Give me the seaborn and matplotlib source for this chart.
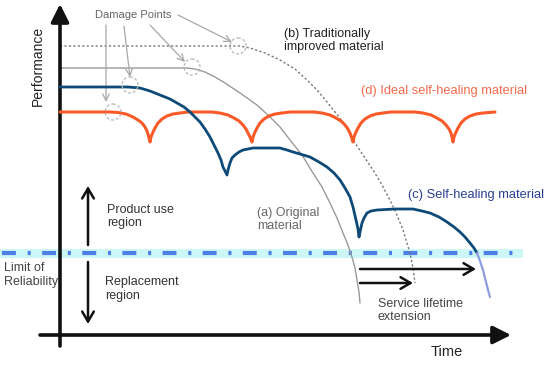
import matplotlib
matplotlib.use("Agg")
import matplotlib.pyplot as plt
import seaborn as sns
from matplotlib.patches import Circle, Rectangle

sns.set_theme(style="white")
plt.rcParams['font.family'] = ['Liberation Sans', 'DejaVu Sans']
plt.rcParams['lines.scale_dashes'] = False

# ---- curve data (diagram units: x = time, y = performance) ----
orig_x = [60, 187, 195, 205, 215, 225, 240, 257, 270, 280, 290, 302, 313, 322, 330, 337,
          343, 348, 352, 355, 357, 359, 360]
orig_y = [68, 68, 69, 72, 77, 83, 93, 105, 117, 127, 140, 155, 173, 187, 203, 218,
          233, 245, 257, 268, 280, 292, 303]

trad_x = [60, 240, 250, 265, 280, 295, 307, 317, 327, 343, 353, 363, 373, 382, 390, 397,
          403, 410, 413, 415]
trad_y = [46, 46, 48, 53, 60, 69, 80, 90, 102, 122, 140, 155, 170, 185, 200, 215,
          230, 253, 268, 283]

heal_x = [60, 128, 140, 150, 160, 170, 177, 184, 190, 195, 200, 205, 210, 214, 218, 221,
          223, 225, 227, 228, 230, 232, 235, 239, 243, 248, 253, 280, 287, 293, 300, 310,
          319, 327, 334, 340, 345, 350, 353, 356, 358, 359, 360, 362, 364, 367, 371, 377,
          395, 413, 422, 430, 439, 447, 454, 460, 465, 470, 474, 477]
heal_y = [87, 87, 88, 91, 95, 99, 103, 107, 112, 117, 122, 129, 137, 145, 153, 160,
          167, 171, 175, 170, 163, 158, 155, 152, 150, 149, 148, 148, 150, 152, 154, 157,
          162, 167, 173, 180, 188, 197, 207, 220, 229, 237, 232, 223, 218, 213, 211, 210,
          209, 209, 211, 213, 217, 222, 227, 232, 237, 243, 248, 253]
heal_tail_x = [477, 480, 483, 486, 488, 490]
heal_tail_y = [253, 261, 270, 282, 290, 297]

ideal_x = [60, 110, 118, 126, 133, 138, 142, 145, 147, 148.5, 150,
           151, 153, 155, 158, 162, 167, 173, 180, 188, 200, 212, 220, 228, 234, 239, 243, 246, 248, 250, 252,
           253, 255, 257, 260, 264, 269, 275, 282, 290, 302, 314, 322, 330, 336, 341, 345, 348, 350, 351.5, 353,
           354, 356, 358, 361, 365, 370, 376, 383, 391, 403, 415, 423, 431, 437, 442, 446, 449, 451, 452, 453,
           454, 456, 458, 461, 465, 470, 476, 483, 495]
ideal_y = [112, 112, 112.5, 114, 117, 120, 123, 127, 131, 136, 142,
           137, 132, 128, 123, 119, 116, 114, 113, 112, 112, 112, 113, 115, 118, 121, 125, 129, 133, 137, 142,
           137, 132, 128, 123, 119, 116, 114, 113, 112, 112, 112, 113, 115, 118, 121, 125, 129, 133, 137, 142,
           137, 132, 128, 123, 119, 116, 114, 113, 112, 112, 112, 113, 115, 118, 121, 125, 129, 133, 137, 142,
           137, 132, 128, 123, 119, 116, 114, 113, 112]

damage_x = [113, 130, 192, 238]
damage_y = [112, 85, 67, 46]

limit_y = 253

fig = plt.figure(figsize=(5.5, 3.65), dpi=100)
ax = fig.add_axes([0, 0, 1, 1])
ax.set_xlim(0, 550)
ax.set_ylim(365, 0)
ax.axis('off')

# limit of reliability band and dash-dot line
ax.add_patch(Rectangle((0, limit_y - 4.5), 523, 9, color='#cdf6f6', lw=0, zorder=1))
ax.plot([2, 520], [limit_y, limit_y], color='#4d7fe6', lw=3.0,
        dashes=(10, 8.5, 2.2, 8.2), solid_capstyle='butt', dash_capstyle='butt', zorder=2)

# curves
sns.lineplot(x=orig_x, y=orig_y, sort=False, estimator=None, ax=ax, color='#9a9a9a', lw=1.0, zorder=3)
sns.lineplot(x=trad_x, y=trad_y, sort=False, estimator=None, ax=ax, color='#777777', lw=1.0,
             zorder=3).lines[-1].set_dashes((1.6, 1.6))
sns.lineplot(x=ideal_x, y=ideal_y, sort=False, estimator=None, ax=ax, color='#fa5a28', lw=2.2, zorder=4)
sns.lineplot(x=heal_x, y=heal_y, sort=False, estimator=None, ax=ax, color='#0d4a78', lw=2.0, zorder=5)
sns.lineplot(x=heal_tail_x, y=heal_tail_y, sort=False, estimator=None, ax=ax, color='#8d9ce0', lw=1.6, zorder=5)
for ln in ax.lines[1:]:
    ln.set_solid_joinstyle('round')

# damage point circles
for cx, cy in zip(damage_x, damage_y):
    ax.add_patch(Circle((cx, cy), 8, fill=False, ec='#b5b5b5', lw=0.9, ls=(0, (2, 1.5)), zorder=6))

# damage point arrows
arr_gray = dict(arrowstyle='->', color='#a8a8a8', lw=0.9, shrinkA=0, shrinkB=0)
ax.annotate('', xy=(106, 102), xytext=(106, 25), arrowprops=arr_gray)
ax.annotate('', xy=(130, 77), xytext=(124, 26), arrowprops=arr_gray)
ax.annotate('', xy=(185, 62), xytext=(150, 25), arrowprops=arr_gray)
ax.annotate('', xy=(232, 42), xytext=(178, 15), arrowprops=arr_gray)

# axes arrows
ax.annotate('', xy=(60, 4), xytext=(60, 346),
            arrowprops=dict(arrowstyle='-|>,head_length=0.9,head_width=0.45', color='#111111', lw=2.6,
                            shrinkA=0, shrinkB=0))
ax.annotate('', xy=(511, 335), xytext=(40, 335),
            arrowprops=dict(arrowstyle='-|>,head_length=0.9,head_width=0.45', color='#111111', lw=2.6,
                            shrinkA=0, shrinkB=0))

# region double arrows
reg = dict(arrowstyle='->,head_length=0.6,head_width=0.35', color='#111111', lw=1.8, shrinkA=0, shrinkB=0)
ax.annotate('', xy=(88, 186), xytext=(88, 245), arrowprops=reg)
ax.annotate('', xy=(88, 324), xytext=(88, 262), arrowprops=reg)

# service lifetime arrows
ax.annotate('', xy=(476, 269), xytext=(360, 269), arrowprops=reg)
ax.annotate('', xy=(413, 283), xytext=(360, 283), arrowprops=reg)

# texts
fs = 9.0
ax.text(95, 15, 'Damage Points', fontsize=8.0, color='#666666', ha='left', va='center')
ax.text(284, 40.5, '(b) Traditionally\nimproved material', fontsize=fs, color='#222222',
        ha='left', va='center', linespacing=1.15)
ax.text(361, 91, '(d) Ideal self-healing material', fontsize=9.3, color='#f26a4c', ha='left', va='center')
ax.text(408, 195, '(c) Self-healing material', fontsize=9.3, color='#2a3f8f', ha='left', va='center')
ax.text(257, 219.5, '(a) Original\nmaterial', fontsize=fs, color='#666666', ha='left', va='center',
        linespacing=1.15)
ax.text(107, 216.5, 'Product use\nregion', fontsize=fs, color='#333333', ha='left', va='center',
        linespacing=1.15)
ax.text(105, 289, 'Replacement\nregion', fontsize=fs, color='#333333', ha='left', va='center',
        linespacing=1.15)
ax.text(4, 275, 'Limit of\nReliability', fontsize=fs, color='#444444', ha='left', va='center',
        linespacing=1.15)
ax.text(378, 310.5, 'Service lifetime\nextension', fontsize=fs, color='#444444', ha='left', va='center',
        linespacing=1.15)
ax.text(447, 352, 'Time', fontsize=10.5, color='#222222', ha='center', va='center')
ax.text(38, 66, 'Performance', fontsize=10, color='#222222', ha='center', va='center', rotation=90)

fig.savefig('out.png', dpi=100)
